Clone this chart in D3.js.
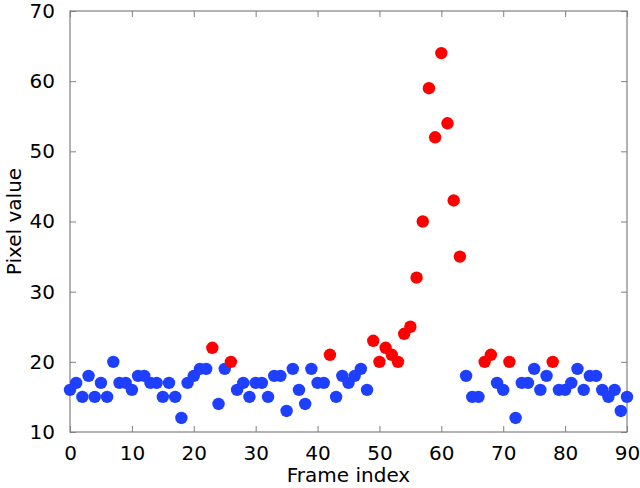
<!DOCTYPE html>
<html lang="en">
<head>
<meta charset="UTF-8">
<title>Pixel value</title>
<script src="https://d3js.org/d3.v7.min.js"></script>
<style>
body { margin: 0; background: #fff; }
text { font-family: "DejaVu Sans", sans-serif; fill: #000; }
</style>
</head>
<body>
<div id="chart"></div>
<script>
// pixel value per frame (frame index = position in array)
const pixelValues = [
  16, 17, 15, 18, 15, 17, 15, 20, 17, 17,
  16, 18, 18, 17, 17, 15, 17, 15, 12, 17,
  18, 19, 19, 22, 14, 19, 20, 16, 17, 15,
  17, 17, 15, 18, 18, 13, 19, 16, 14, 19,
  17, 17, 21, 15, 18, 17, 18, 19, 16, 23,
  20, 22, 21, 20, 24, 25, 32, 40, 59, 52,
  64, 54, 43, 35, 18, 15, 15, 20, 21, 17,
  16, 20, 12, 17, 17, 19, 16, 18, 20, 16,
  16, 17, 19, 16, 18, 18, 16, 15, 16, 13,
  15
]
// frames flagged (drawn red)
const flagged = [23, 26, 42, 49, 50, 51, 52, 53, 54, 55, 56, 57, 58, 59, 60, 61, 62, 63, 67, 68, 71, 78]
const xTicks = [0, 10, 20, 30, 40, 50, 60, 70, 80, 90]
const yTicks = [10, 20, 30, 40, 50, 60, 70]

const width = 640, height = 488
const margin = {top: 11, right: 13, bottom: 56, left: 70}
const w = width - margin.left - margin.right
const h = height - margin.top - margin.bottom

const svg = d3.select("#chart").append("svg")
  .attr("width", width).attr("height", height)
const g = svg.append("g")
  .attr("transform", "translate(" + margin.left + "," + margin.top + ")")

const x = d3.scaleLinear().domain([0, 90]).range([0, w])
const y = d3.scaleLinear().domain([10, 70]).range([h, 0])

const axisColor = "#808080"
const tickLen = 6
const fontSize = "20px"

function styleAxis(sel, showLabels) {
  sel.select(".domain").remove()
  sel.selectAll(".tick line").attr("stroke", axisColor)
  sel.selectAll(".tick text").style("font-size", fontSize)
  if (!showLabels) sel.selectAll(".tick text").remove()
}

// bottom + top
g.append("g").attr("transform", "translate(0," + h + ")")
  .call(d3.axisBottom(x).tickValues(xTicks).tickSizeInner(-tickLen).tickPadding(14))
  .call(styleAxis, true)
g.append("g")
  .call(d3.axisTop(x).tickValues(xTicks).tickSizeInner(-tickLen))
  .call(styleAxis, false)
// left + right
g.append("g")
  .call(d3.axisLeft(y).tickValues(yTicks).tickSizeInner(-tickLen).tickPadding(15))
  .call(styleAxis, true)
g.append("g").attr("transform", "translate(" + w + ",0)")
  .call(d3.axisRight(y).tickValues(yTicks).tickSizeInner(-tickLen))
  .call(styleAxis, false)

g.append("rect")
  .attr("width", w).attr("height", h)
  .attr("fill", "none").attr("stroke", axisColor).attr("stroke-width", 1.2)

// dots
g.append("g").selectAll("circle")
  .data(pixelValues)
  .join("circle")
  .attr("cx", (d, i) => x(i))
  .attr("cy", d => y(d))
  .attr("r", 6.2)
  .attr("fill", (d, i) => flagged.includes(i) ? "#ff0000" : "#1f3fff")

// axis titles
svg.append("text")
  .attr("x", margin.left + w / 2).attr("y", 482)
  .attr("text-anchor", "middle").style("font-size", fontSize)
  .text("Frame index")
svg.append("text")
  .attr("transform", "translate(21," + (margin.top + h / 2) + ") rotate(-90)")
  .attr("text-anchor", "middle").style("font-size", fontSize)
  .text("Pixel value")
</script>
</body>
</html>
